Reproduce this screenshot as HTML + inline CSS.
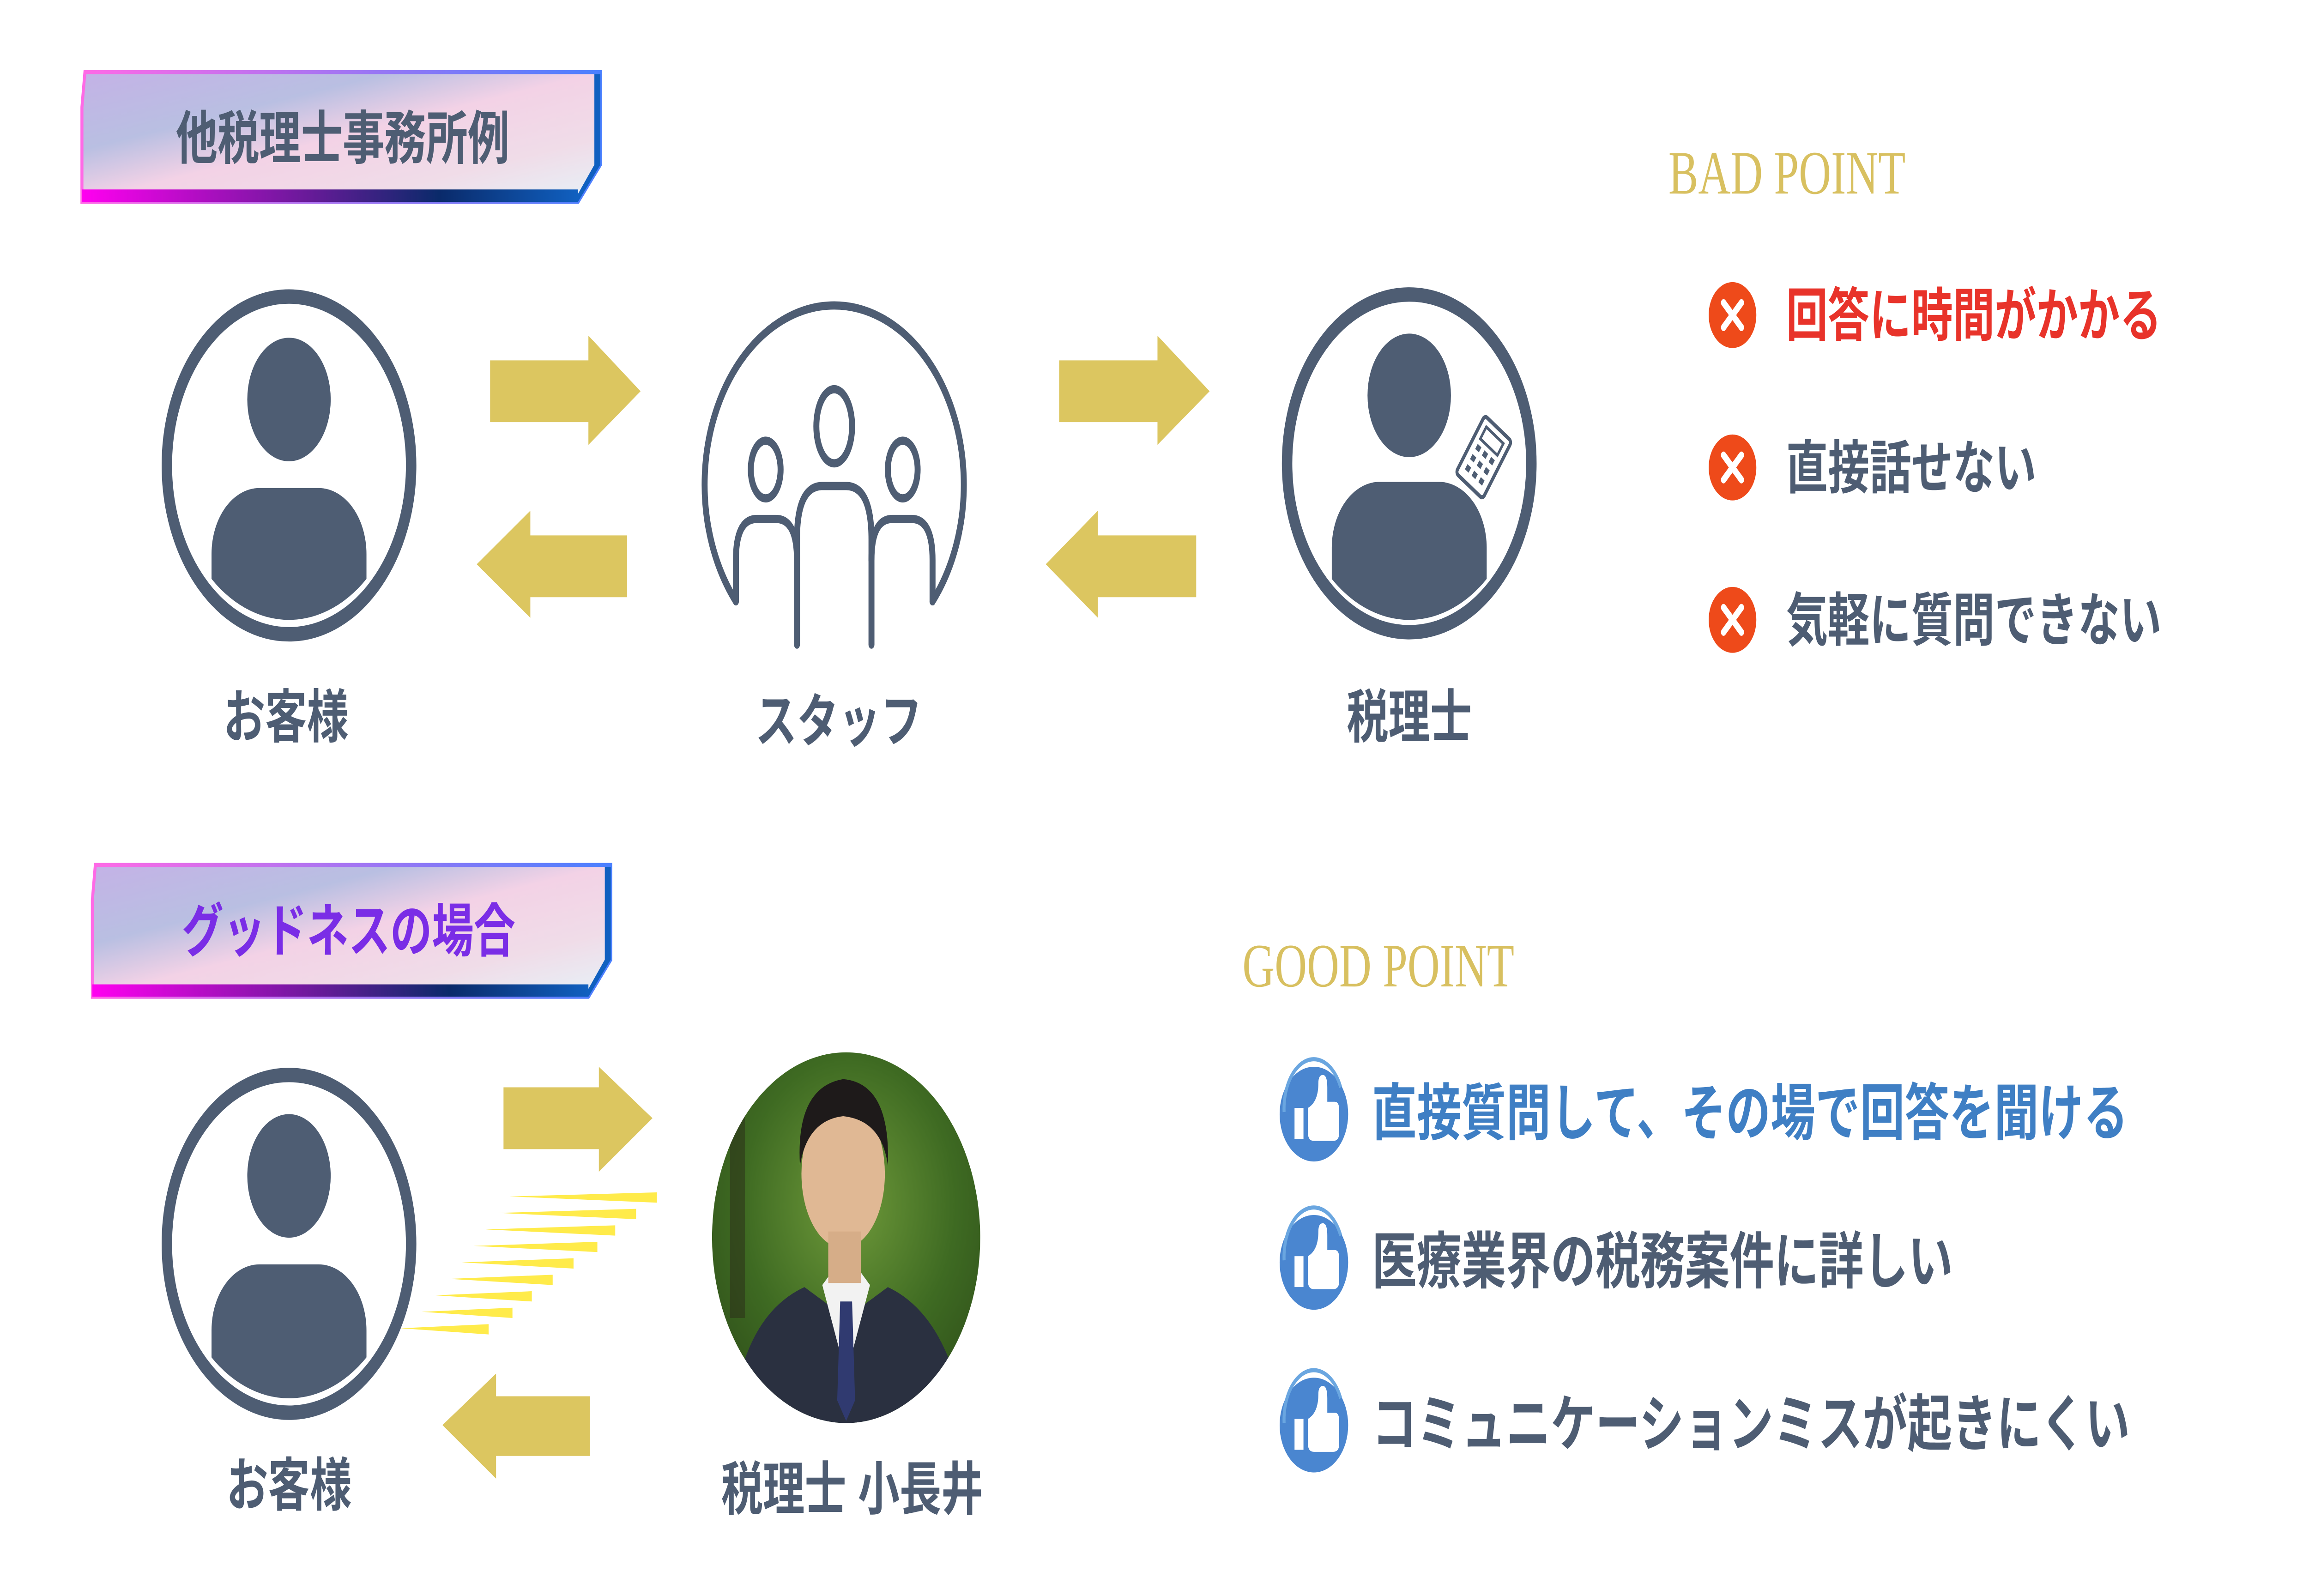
<!DOCTYPE html>
<html><head><meta charset="utf-8"><style>
html,body{margin:0;padding:0;background:#fff;width:100%;height:100%;overflow:hidden;}
svg{display:block;width:100vw;height:100vh;}
text{font-family:"Liberation Sans","Noto Sans CJK JP",sans-serif;font-weight:bold;}
.s{font-family:"Liberation Serif","Noto Serif CJK SC",serif;font-weight:normal;}
</style></head><body>
<svg viewBox="0 0 1550 775" preserveAspectRatio="none" xmlns="http://www.w3.org/2000/svg">
<defs>
<linearGradient id="bf" x1="0" y1="0" x2="1" y2="1">
<stop offset="0" stop-color="#c4b2e6"/><stop offset="0.3" stop-color="#b9bfe2"/><stop offset="0.5" stop-color="#f3d2e6"/><stop offset="0.75" stop-color="#f0dce8"/><stop offset="1" stop-color="#e6f2f8"/></linearGradient>
<linearGradient id="bs" x1="0" y1="0" x2="1" y2="0"><stop offset="0" stop-color="#ff6ae6"/><stop offset="1" stop-color="#4a80ff"/></linearGradient>
<linearGradient id="bb" x1="0" y1="0" x2="1" y2="0"><stop offset="0" stop-color="#ff00f0"/><stop offset="0.45" stop-color="#6a1a9a"/><stop offset="0.72" stop-color="#0a2a6a"/><stop offset="1" stop-color="#1060c0"/></linearGradient>
<radialGradient id="tree" cx="0.5" cy="0.4" r="0.6"><stop offset="0" stop-color="#6f9a3a"/><stop offset="0.6" stop-color="#3e6a22"/><stop offset="1" stop-color="#2f4f1a"/></radialGradient>
<clipPath id="p1"><circle cx="194" cy="223" r="78"/></clipPath>
<clipPath id="p2"><circle cx="946" cy="223" r="78"/></clipPath>
<clipPath id="p3"><circle cx="194" cy="601" r="78"/></clipPath>
<clipPath id="ph"><circle cx="568" cy="601" r="90"/></clipPath>
</defs>

<path d="M57,35 H403 V80 L388,98 H55 V52 Z" fill="url(#bf)" stroke="url(#bs)" stroke-width="2"/>
<path d="M403,36 V80 L388,98 H385 L399,80 V36Z" fill="#1060c0"/>
<rect x="55" y="92" width="333" height="6" fill="url(#bb)"/>
<text x="230" y="77" font-size="28" text-anchor="middle" fill="#4e5d73">他税理士事務所例</text>

<path d="M64,420 H410 V466 L395,484 H62 V437 Z" fill="url(#bf)" stroke="url(#bs)" stroke-width="2"/>
<path d="M410,421 V466 L395,484 H392 L406,466 V421Z" fill="#1060c0"/>
<rect x="62" y="478" width="333" height="6" fill="url(#bb)"/>
<text x="234" y="462" font-size="28" text-anchor="middle" fill="#7a2de6">グッドネスの場合</text>

<circle cx="194" cy="226" r="82" fill="none" stroke="#4e5d73" stroke-width="7"/>
<ellipse cx="194" cy="194" rx="28" ry="30" fill="#4e5d73"/>
<g clip-path="url(#p1)"><rect x="142" y="237" width="104" height="100" rx="32" fill="#4e5d73"/></g>
<text x="192" y="358" font-size="28" text-anchor="middle" fill="#4e5d73">お客様</text>

<g fill="#dcc660">
<path d="M329,175 H395 V163 L430,190 L395,216 V205 H329Z"/>
<path d="M421,260 H356 V248 L320,274 L356,300 V290 H421Z"/>
<path d="M711,175 H777 V163 L812,190 L777,216 V205 H711Z"/>
<path d="M803,260 H737 V248 L702,274 L737,300 V290 H803Z"/>
<path d="M338,528 H402 V518 L438,543 L402,569 V558 H338Z"/>
<path d="M396,678 H333 V667 L297,692 L333,718 V707 H396Z"/>
</g>

<g fill="none" stroke="#4e5d73" stroke-width="4" stroke-linecap="round">
<path d="M494,292 A87,87 0 1 1 626,292"/>
<ellipse cx="560" cy="207" rx="12" ry="18"/>
<ellipse cx="514" cy="228" rx="10" ry="14"/>
<ellipse cx="606" cy="228" rx="10" ry="14"/>
<path d="M535,313 V262 Q535,236 552,236 H568 Q585,236 585,262 V313"/>
<path d="M494,292 V272 Q494,252 508,252 H521 Q535,252 535,272"/>
<path d="M585,272 Q585,252 599,252 H612 Q626,252 626,272 V292"/>
</g>
<text x="563" y="360" font-size="28" text-anchor="middle" fill="#4e5d73">スタッフ</text>

<circle cx="946" cy="225" r="82" fill="none" stroke="#4e5d73" stroke-width="7"/>
<ellipse cx="946" cy="192" rx="28" ry="30" fill="#4e5d73"/>
<g clip-path="url(#p2)"><rect x="894" y="234" width="104" height="100" rx="32" fill="#4e5d73"/></g>
<g transform="translate(996,222) rotate(35)">
<rect x="-11" y="-17" width="22" height="34" rx="2" fill="#fff" stroke="#4e5d73" stroke-width="2"/>
<rect x="-7" y="-13" width="14" height="7" fill="none" stroke="#4e5d73" stroke-width="1.5"/>
<g fill="#4e5d73"><rect x="-7" y="-3" width="3" height="3"/><rect x="-1.5" y="-3" width="3" height="3"/><rect x="4" y="-3" width="3" height="3"/>
<rect x="-7" y="3" width="3" height="3"/><rect x="-1.5" y="3" width="3" height="3"/><rect x="4" y="3" width="3" height="3"/>
<rect x="-7" y="9" width="3" height="3"/><rect x="-1.5" y="9" width="3" height="3"/><rect x="4" y="9" width="3" height="3"/></g>
</g>
<text x="946" y="358" font-size="28" text-anchor="middle" fill="#4e5d73">税理士</text>

<text class="s" x="1120" y="94" font-size="30" fill="#d8c060">BAD POINT</text>
<g font-size="28">
<circle cx="1163" cy="153" r="16" fill="#ee4a1a"/>
<path d="M1157,147 L1169,159 M1169,147 L1157,159" stroke="#fff" stroke-width="3.5" stroke-linecap="round"/>
<text x="1199" y="163" fill="#e8332a">回答に時間がかかる</text>
<circle cx="1163" cy="227" r="16" fill="#ee4a1a"/>
<path d="M1157,221 L1169,233 M1169,221 L1157,233" stroke="#fff" stroke-width="3.5" stroke-linecap="round"/>
<text x="1199" y="237" fill="#4e5d73">直接話せない</text>
<circle cx="1163" cy="301" r="16" fill="#ee4a1a"/>
<path d="M1157,295 L1169,307 M1169,295 L1157,307" stroke="#fff" stroke-width="3.5" stroke-linecap="round"/>
<text x="1199" y="311" fill="#4e5d73">気軽に質問できない</text>
</g>

<text class="s" x="834" y="479" font-size="30" fill="#d8c060">GOOD POINT</text>
<g font-size="30">
<g id="th">
<circle cx="882" cy="541" r="23" fill="#4a86d0"/>
<path d="M862,540 A20,24 0 0 1 900,528" fill="none" stroke="#6aa6e0" stroke-width="2"/>
<rect x="869" y="538" width="6" height="15" fill="#fff"/>
<path d="M878,538 Q885,535 885,526 Q885,522 888,522 Q891,522 891,528 V535 H896 Q899,535 899,539 V550 Q899,554 895,554 H882 Q878,554 878,550Z" fill="#fff"/>
</g>
<text x="921" y="551" fill="#3f7fc4">直接質問して、その場で回答を聞ける</text>
<use href="#th" y="72"/>
<text x="921" y="623" fill="#4e5d73">医療業界の税務案件に詳しい</text>
<use href="#th" y="151"/>
<text x="921" y="702" fill="#4e5d73">コミュニケーションミスが起きにくい</text>
</g>

<circle cx="194" cy="604" r="82" fill="none" stroke="#4e5d73" stroke-width="7"/>
<ellipse cx="194" cy="571" rx="28" ry="30" fill="#4e5d73"/>
<g clip-path="url(#p3)"><rect x="142" y="614" width="104" height="100" rx="32" fill="#4e5d73"/></g>
<text x="194" y="731" font-size="28" text-anchor="middle" fill="#4e5d73">お客様</text>

<g fill="#ffeb4a">
<path d="M342,581 L441,579 V584Z"/>
<path d="M334,589 L427,587 V592Z"/>
<path d="M326,597 L413,595 V600Z"/>
<path d="M318,605 L401,603 V608Z"/>
<path d="M310,613 L385,611 V616Z"/>
<path d="M301,621 L371,619 V624Z"/>
<path d="M292,629 L357,627 V632Z"/>
<path d="M283,637 L344,635 V640Z"/>
<path d="M269,645 L328,643 V648Z"/>
</g>

<g clip-path="url(#ph)">
<rect x="470" y="505" width="200" height="200" fill="url(#tree)"/>
<rect x="490" y="520" width="10" height="120" fill="#2a2a18" opacity="0.5"/>
<path d="M490,700 Q495,640 540,625 L568,640 L596,625 Q640,640 650,700Z" fill="#2a3040"/>
<path d="M552,624 L568,668 L584,624 L578,618 H558Z" fill="#f2f2f2"/>
<path d="M564,632 L572,632 L574,680 L568,690 L562,680Z" fill="#303a70"/>
<ellipse cx="566" cy="570" rx="28" ry="36" fill="#e0b894"/>
<rect x="556" y="598" width="22" height="25" fill="#d6ad88"/>
<path d="M537,566 Q534,528 566,524 Q598,526 596,566 Q592,544 566,542 Q542,544 537,566Z" fill="#1e1a1a"/>
</g>
<text x="572" y="733" font-size="28" text-anchor="middle" fill="#4e5d73">税理士 小長井</text>
</svg>
</body></html>
